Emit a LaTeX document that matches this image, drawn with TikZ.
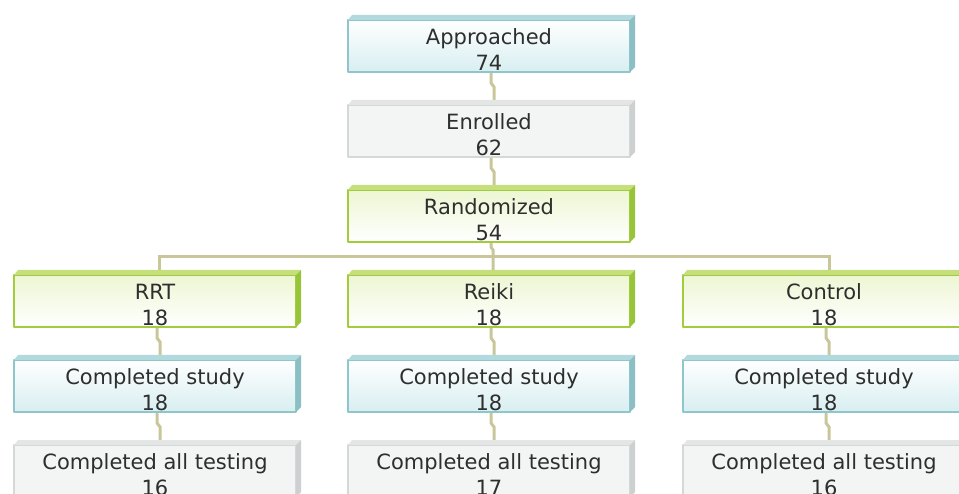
\documentclass[tikz,border=0pt]{standalone}
\usepackage{fontspec}
\setmainfont{DejaVu Sans}
\usetikzlibrary{positioning,backgrounds}

\definecolor{blueLine}{HTML}{8EC6CA}
\definecolor{blueTop}{HTML}{B2DADE}
\definecolor{blueSide}{HTML}{8CBFC4}
\definecolor{blueFill}{HTML}{D8EEF1}
\definecolor{greyLine}{HTML}{D4D8D8}
\definecolor{greyTop}{HTML}{E4E6E6}
\definecolor{greySide}{HTML}{CCD0D0}
\definecolor{greyFill}{HTML}{F3F4F4}
\definecolor{greenLine}{HTML}{A3CC3C}
\definecolor{greenTop}{HTML}{C4DF7C}
\definecolor{greenSide}{HTML}{98C43A}
\definecolor{greenFill}{HTML}{EDF6D3}
\definecolor{linkCol}{HTML}{C9C799}
\definecolor{txtCol}{HTML}{2E2E2E}

\tikzset{
  box/.style={draw=#1Line, line width=1.2pt, outer sep=0pt, inner sep=0pt,
    minimum width=282pt, minimum height=52pt},
  blue/.style={box=blue, top color=white, bottom color=blueFill},
  grey/.style={box=grey, fill=greyFill},
  green/.style={box=green, top color=greenFill, bottom color=white},
  txt/.style={align=center, text=txtCol, yshift=-4pt,
    font=\fontsize{21}{26}\selectfont},
  link/.style={draw=linkCol, line width=3pt}
}

\newcommand\flowbox[5]{%
  \node[#2] (#1) at (#3) {};
  \node[txt] (#1-t) at (#1) {#4\\#5};
}

\begin{document}
\begin{tikzpicture}[x=1pt, y=-1pt, line join=round]
\useasboundingbox (0,0) rectangle (959,494);
\clip (0,0) rectangle (959,494);

\flowbox{appr}{blue}{489,46}{Approached}{74}
\flowbox{enr}{grey}{489,131}{Enrolled}{62}
\flowbox{rand}{green}{489,216}{Randomized}{54}

\flowbox{rrt}{green}{155,301}{RRT}{18}
\flowbox{reiki}{green}{489,301}{Reiki}{18}
\flowbox{ctl}{green}{824,301}{Control}{18}

\flowbox{rrtcs}{blue}{155,386}{Completed study}{18}
\flowbox{reikics}{blue}{489,386}{Completed study}{18}
\flowbox{ctlcs}{blue}{824,386}{Completed study}{18}

\flowbox{rrtall}{grey}{155,471}{Completed all testing}{16}
\flowbox{reikiall}{grey}{489,471}{Completed all testing}{17}
\flowbox{ctlall}{grey}{824,471}{Completed all testing}{16}

\foreach \n/\c in {appr/blue, enr/grey, rand/green, rrt/green, reiki/green,
    ctl/green, rrtcs/blue, reikics/blue, ctlcs/blue, rrtall/grey,
    reikiall/grey, ctlall/grey} {
  \fill[fill=\c Top] (\n.north west) -- ++(4,-5)
    -- ([shift={(5,-5)}]\n.north east) -- (\n.north east) -- cycle;
  \fill[fill=\c Side] (\n.north east) -- ++(5,-5)
    -- ([shift={(5,-5)}]\n.south east) -- (\n.south east) -- cycle;
}

\begin{scope}[on background layer]
  \foreach \a/\b in {appr/enr, enr/rand, rrt/rrtcs, rrtcs/rrtall,
      reiki/reikics, reikics/reikiall, ctl/ctlcs, ctlcs/ctlall}
    \draw[link] ([xshift=2pt]\a.south) -- ++(0,11) -- ++(3,4)
      -- ([xshift=5pt]\b.north);
  \draw[link] ([xshift=2pt]rand.south) -- ++(0,5) -- ++(2,3)
    -- ([xshift=4pt]reiki.north);
  \draw[link] ([xshift=4pt]rrt.north) -- ++(0,-18)
    -| ([xshift=5pt]ctl.north);
\end{scope}
\end{tikzpicture}
\end{document}
